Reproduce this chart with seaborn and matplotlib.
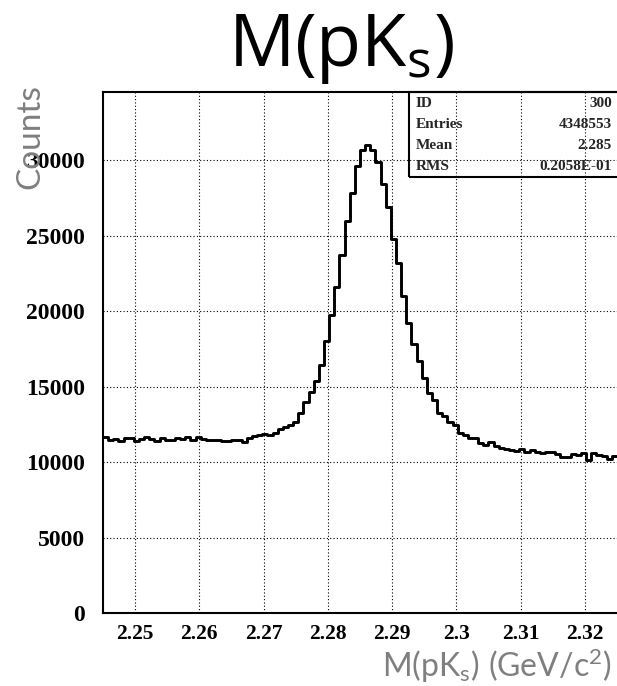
import numpy as np
import pandas as pd
import matplotlib
matplotlib.use('Agg')
import matplotlib.pyplot as plt
from matplotlib.patches import Rectangle
from matplotlib.ticker import MultipleLocator
import seaborn as sns

# Histogram: 100 bins of 0.0008 GeV/c^2 from 2.245 to 2.325
x_lo, x_hi, n_bins = 2.245, 2.325, 100
counts_k = [
    11.65, 11.45, 11.55, 11.42, 11.58, 11.62, 11.40, 11.52, 11.64, 11.50,
    11.42, 11.58, 11.44, 11.48, 11.62, 11.55, 11.66, 11.44, 11.68, 11.50,
    11.46, 11.45, 11.48, 11.42, 11.38, 11.47, 11.47, 11.36, 11.58, 11.74,
    11.80, 11.87, 11.80, 11.96, 12.18, 12.36, 12.47, 12.69, 13.24, 14.01,
    14.68, 15.41, 16.45, 18.06, 19.74, 21.60, 23.74, 26.00, 27.87, 29.64,
    30.70, 31.03, 30.70, 29.86, 28.45, 26.92, 24.78, 23.19, 21.02, 19.21,
    17.84, 16.70, 15.60, 14.57, 14.10, 13.28, 13.06, 12.69, 12.47, 11.96,
    11.80, 11.63, 11.63, 11.29, 11.14, 11.36, 11.10, 10.96, 10.90, 10.81,
    10.74, 10.85, 10.70, 10.81, 10.70, 10.63, 10.68, 10.70, 10.54, 10.32,
    10.37, 10.54, 10.48, 10.59, 10.15, 10.63, 10.48, 10.41, 10.19, 10.41,
]
x_ticks = [2.25, 2.26, 2.27, 2.28, 2.29, 2.3, 2.31, 2.32]
x_tick_labels = ['2.25', '2.26', '2.27', '2.28', '2.29', '2.3', '2.31', '2.32']
y_ticks = [0, 5000, 10000, 15000, 20000, 25000, 30000]
stats_names = ['ID', 'Entries', 'Mean', 'RMS']
stats_values = ['300', '4348553', '2.285', '0.2058E-01']

edges = np.linspace(x_lo, x_hi, n_bins + 1)
df = pd.DataFrame({'mass': (edges[:-1] + edges[1:]) / 2,
                   'counts': np.array(counts_k) * 1000})

sns.set_style('white')
plt.rcParams['font.family'] = ['Liberation Serif', 'DejaVu Serif']
plt.rcParams['mathtext.fontset'] = 'custom'
# \mathrm -> title font, \mathsf -> grey axis-title font
plt.rcParams['mathtext.rm'] = 'Open Sans'
plt.rcParams['mathtext.it'] = 'Open Sans:italic'
plt.rcParams['mathtext.sf'] = 'Lato'

fig = plt.figure(figsize=(6.17, 6.86), dpi=100)
ax = fig.add_axes([0.1669, 0.1064, 0.8331, 0.7588])

sns.histplot(data=df, x='mass', weights='counts', bins=n_bins,
             binrange=(x_lo, x_hi), element='step',
             fill=False, color='black', linewidth=2.1, ax=ax)

ax.set_xlim(x_lo, x_hi)
ax.set_ylim(0, 34500)
ax.set_xticks(x_ticks)
ax.set_xticklabels(x_tick_labels)
ax.set_yticks(y_ticks)
ax.set_yticklabels([str(v) for v in y_ticks])
ax.xaxis.set_minor_locator(MultipleLocator(0.002))
ax.yaxis.set_minor_locator(MultipleLocator(2500))
ax.tick_params(which='major', direction='in', length=7, width=1.2, colors='black')
ax.tick_params(which='minor', direction='in', length=4, width=1.0, colors='black')
ax.tick_params(axis='x', which='major', pad=8)
ax.tick_params(axis='y', which='major', pad=13)
for lab in ax.get_xticklabels():
    lab.set_fontweight('bold')
    lab.set_fontsize(15.5)
for lab in ax.get_yticklabels():
    lab.set_fontweight('bold')
    lab.set_fontsize(17)

ax.grid(True, which='major', color='black', linestyle=(0, (1, 2)), linewidth=0.8)
ax.set_axisbelow(False)
for side in ['left', 'bottom', 'top']:
    ax.spines[side].set_color('black')
    ax.spines[side].set_linewidth(1.5)
ax.spines['right'].set_visible(False)

ax.set_xlabel('')
ax.set_ylabel('Counts', fontsize=24, color='#7f7f7f', family=['Lato', 'DejaVu Sans'])
ax.yaxis.set_label_coords(-0.113, 0.915)

fig.text(0.992, 0.013, r'$\mathsf{M(pK_s)\ (GeV/c^2)}$', fontsize=23, color='#7f7f7f',
         ha='right', va='baseline')

# Stats box (ROOT style)
box_x0 = (409 - 103) / 514
box_y0 = (613 - 177) / 520.5
ax.add_patch(Rectangle((box_x0, box_y0), 1.0 - box_x0 + 0.01, 1.0 - box_y0,
                       transform=ax.transAxes, fill=False, edgecolor='black',
                       linewidth=1.5, clip_on=False, zorder=5))
row_h = (1.0 - box_y0) / 4
for i, (name, val) in enumerate(zip(stats_names, stats_values)):
    yy = 1.0 - row_h * (i + 0.5)
    ax.text(box_x0 + 0.013, yy, name, transform=ax.transAxes, fontsize=11,
            fontweight='bold', va='center', ha='left')
    ax.text(0.99, yy, val, transform=ax.transAxes, fontsize=11,
            fontweight='bold', va='center', ha='right')

# Title
fig.text(0.553, 0.904, r'$\mathrm{M(pK_s)}$', fontsize=53, color='black',
         ha='center', va='baseline')

fig.savefig('out.png', dpi=100)
